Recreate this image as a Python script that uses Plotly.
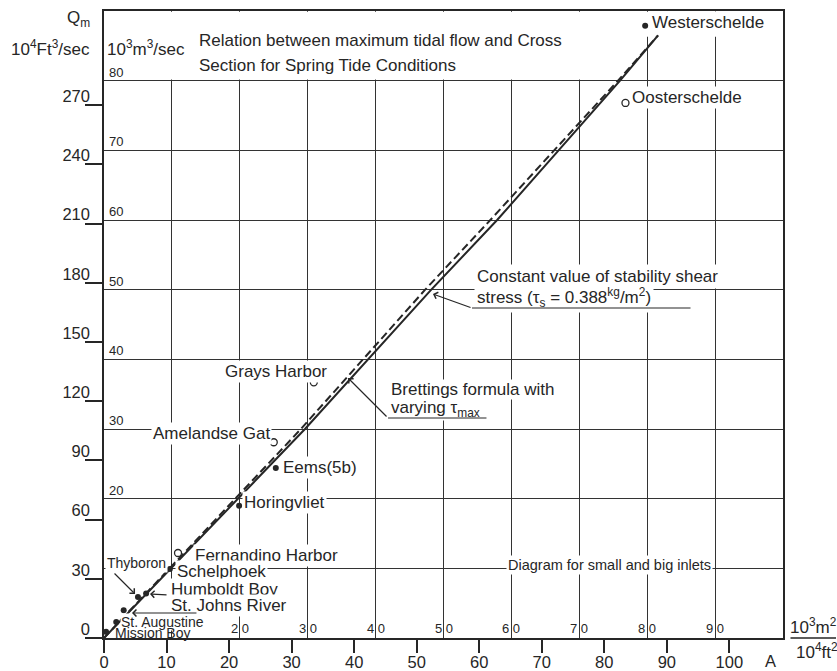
import plotly.graph_objects as go

# ---------------- data (metric: A in 10^3 m^2, Q in 10^3 m^3/s) ----------------
inlet_names = ["Westerschelde", "Oosterschelde", "Grays Harbor", "Amelandse Gat", "Eems(5b)",
               "Horingvliet", "Fernandino Harbor", "Schelphoek", "Humboldt Boy", "Thyboron",
               "St. Johns River", "St. Augustine", "Mission Boy"]
inlet_area = [79.7, 76.8, 30.9, 25.0, 25.3, 19.9, 10.9, 9.7, 6.2, 5.0, 2.9, 1.8, 0.3]
inlet_flow = [87.9, 76.8, 36.7, 28.1, 24.4, 19.0, 12.2, 9.9, 6.4, 5.9, 4.0, 2.3, 0.9]
inlet_open = [False, True, True, True, False, False, True, False, False, False, False, False, False]

const_area = [0, 19.7, 29.6, 48.2, 57.9, 76.0, 81.6]
const_flow = [0, 20, 30, 50, 60, 80, 86.5]
brett_area = [0, 19.3, 29.0, 47.3, 56.9, 75.7, 81.6]
brett_flow = [0, 20, 30, 50, 60, 80, 86.5]

area_ticks_ft = [0, 10, 20, 30, 40, 50, 60, 70, 80, 90, 100]     # 10^4 ft^2
flow_ticks_ft = [0, 30, 60, 90, 120, 150, 180, 210, 240, 270]    # 10^4 ft^3/s
FT_AREA = 0.921    # 10^4 ft^2 -> 10^3 m^2 (as drawn)
FT_FLOW = 0.2832   # 10^4 ft^3/s -> 10^3 m^3/s
metric_area_grid = [10, 20, 30, 40, 50, 60, 70, 80, 90]
metric_flow_grid = [10, 20, 30, 40, 50, 60, 70, 80]
metric_area_labels = [20, 30, 40, 50, 60, 70, 80, 90]
metric_flow_labels = [20, 30, 40, 50, 60, 70, 80]

INK = "#262626"
FONT = "Liberation Sans, Arial, sans-serif"

fig = go.Figure()

fig.add_trace(go.Scatter(x=brett_area, y=brett_flow, mode="lines",
                         line=dict(color=INK, width=2, dash="8px,4px"), hoverinfo="skip"))
fig.add_trace(go.Scatter(x=const_area, y=const_flow, mode="lines",
                         line=dict(color=INK, width=2), hoverinfo="skip"))

fx = [a for a, o in zip(inlet_area, inlet_open) if not o]
fy = [q for q, o in zip(inlet_flow, inlet_open) if not o]
ox = [a for a, o in zip(inlet_area, inlet_open) if o]
oy = [q for q, o in zip(inlet_flow, inlet_open) if o]
fig.add_trace(go.Scatter(x=fx, y=fy, mode="markers",
                         marker=dict(symbol="circle", size=6, color=INK)))
fig.add_trace(go.Scatter(x=ox, y=oy, mode="markers",
                         marker=dict(symbol="circle-open", size=7, color=INK, line=dict(width=1.3))))
# dummy trace for the metric grid axes
fig.add_trace(go.Scatter(x=[None], y=[None], xaxis="x2", yaxis="y2", mode="markers"))

ann = []


def lab(text, x, y, size=17, bg=True, xanchor="left", yanchor="middle", pad=1, ref="data"):
    r = ("x", "y") if ref == "data" else ("paper", "paper")
    ann.append(dict(text=text, x=x, y=y, xref=r[0], yref=r[1], showarrow=False,
                    xanchor=xanchor, yanchor=yanchor, align="left",
                    font=dict(family=FONT, size=size, color=INK),
                    bgcolor="white" if bg else "rgba(0,0,0,0)", borderpad=pad))


def arrow(x0, y0, x1, y1, head=4):
    ann.append(dict(text="", x=x1, y=y1, ax=x0, ay=y0, xref="x", yref="y", axref="x", ayref="y",
                    showarrow=True, arrowhead=head, arrowsize=1.1, arrowwidth=1.2,
                    arrowcolor=INK, standoff=0, startstandoff=0))


# inlet labels
lab("Westerschelde", 80.4, 88.35)
lab("Oosterschelde", 77.5, 77.6)
lab("Grays Harbor", 17.5, 38.2)
lab("Amelandse Gat", 6.9, 29.4)
lab("Eems(5b)", 26.1, 24.5)
lab("Horingvliet", 20.3, 19.5)
lab("Fernandino Harbor", 13.1, 11.9)
lab("Schelphoek", 10.45, 9.5)
lab("Humboldt Boy", 9.6, 7.0)
lab("St. Johns River", 9.6, 4.6)
lab("St. Augustine", 2.35, 2.3, size=14, pad=0)
lab("Mission Boy", 1.3, 0.72, size=14, bg=False)
lab("Thyboron", 0.15, 10.75, size=14)
lab("Diagram for small and big inlets", 74.5, 10.5, size=14.5, xanchor="center")
lab("Constant value of stability shear", 54.5, 51.96, pad=2)
lab("stress (τ<sub>s</sub> = 0.388<sup>kg</sup>/m<sup>2</sup>)", 54.5, 48.94, pad=2)
lab("varying τ<sub>max</sub>", 42.1, 32.9, pad=0)
lab("Brettings formula with", 42.1, 35.6, pad=0)
lab("Relation between maximum tidal flow and Cross", 13.7, 85.76)
lab("Section for Spring Tide Conditions", 13.7, 82.17)
lab("10<sup>3</sup>m<sup>3</sup>/sec", 0.15, 84.7)

# metric scale labels inside the frame
for v in metric_flow_labels:
    lab(str(v), 0.6, v, size=13, bg=False, yanchor="bottom", pad=0)
for v in metric_area_labels:
    lab(str(v)[0] + " " + str(v)[1], v, 0, size=13, bg=False, xanchor="center", yanchor="bottom", pad=1)

# labels outside the frame (paper coordinates)
lab("Q<sub>m</sub>", -0.0177, 0.987, bg=False, xanchor="right", ref="paper")
lab("10<sup>4</sup>Ft<sup>3</sup>/sec", -0.0177, 0.941, bg=False, xanchor="right", ref="paper")
lab("A", 0.981, -0.0367, size=16.5, bg=False, xanchor="center", ref="paper")
lab("10<sup>3</sup>m<sup>2</sup>", 1.0074, 0.0191, bg=False, ref="paper")
lab("10<sup>4</sup>ft<sup>2</sup>", 1.0162, -0.0207, bg=False, ref="paper")

# leaders and arrows
arrow(54.2, 47.37, 48.45, 49.38)
arrow(86.6, 47.37, 54.2, 47.37, head=0)
arrow(56.55, 31.58, 41.83, 31.58, head=0)
arrow(41.83, 31.58, 35.94, 37.32)
arrow(9.43, 6.17, 6.77, 6.32)
arrow(1.33, 9.47, 4.57, 6.32)
arrow(13.84, 3.59, 4.12, 3.59)
# fraction bar of the unit label
ann.append(dict(text="", x=1.0795, y=0, xref="paper", yref="paper", ax=-48, ay=0,
                axref="pixel", ayref="pixel", showarrow=True, arrowhead=0, arrowwidth=1.3,
                arrowcolor=INK, standoff=0, startstandoff=0))

fig.update_layout(
    width=837, height=671,
    margin=dict(l=104, r=54, t=11, b=33, autoexpand=False),
    paper_bgcolor="white", plot_bgcolor="white",
    showlegend=False,
    font=dict(family=FONT, color=INK),
    annotations=ann,
    shapes=[
        dict(type="rect", xref="x", yref="y", x0=0.15, x1=73.5, y0=80.15, y1=89.9,
             fillcolor="white", line=dict(width=0), layer="between"),
        dict(type="rect", xref="x", yref="y", x0=73.5, x1=99.9, y0=86.3, y1=89.9,
             fillcolor="white", line=dict(width=0), layer="between"),
    ],
    xaxis=dict(range=[0, 100], tickvals=[v * FT_AREA for v in area_ticks_ft],
               ticktext=[str(v) for v in area_ticks_ft], ticks="outside", ticklen=13,
               tickwidth=1.5, tickcolor=INK, showline=True, linecolor=INK, linewidth=1.5,
               mirror=True, showgrid=False, zeroline=False, automargin=False,
               ticklabelstandoff=-5,
               tickfont=dict(family=FONT, size=16.5, color=INK)),
    yaxis=dict(range=[0, 90], tickvals=[v * FT_FLOW for v in flow_ticks_ft],
               ticktext=[str(v) for v in flow_ticks_ft], ticks="outside", ticklen=17,
               tickwidth=1.5, tickcolor=INK, showline=True, linecolor=INK, linewidth=1.5,
               mirror=True, showgrid=False, zeroline=False, ticklabelshift=-9,
               ticklabelstandoff=-8, automargin=False,
               tickfont=dict(family=FONT, size=16.5, color=INK)),
    xaxis2=dict(overlaying="x", anchor="y", range=[0, 100], tickvals=metric_area_grid,
                showgrid=True, gridcolor="#333333", gridwidth=1.3, showticklabels=False,
                ticks="", showline=False, zeroline=False, automargin=False),
    yaxis2=dict(overlaying="y", anchor="x", side="right", range=[0, 90], tickvals=metric_flow_grid,
                showgrid=True, gridcolor="#333333", gridwidth=1.3, showticklabels=False,
                ticks="", showline=False, zeroline=False, automargin=False),
)

fig.write_html("out.html")
